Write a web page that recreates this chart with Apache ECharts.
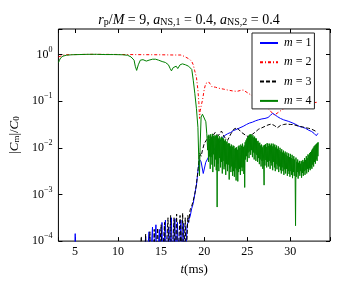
<!DOCTYPE html>
<html><head><meta charset="utf-8">
<script src="https://cdn.jsdelivr.net/npm/echarts@6/dist/echarts.min.js"></script>
<style>html,body{margin:0;padding:0;background:#fff}#c{width:349px;height:281px}</style>
</head><body><div id="c"></div>
<script>
// ---- tick labels / ranges ----
const xTickValues = [5, 10, 15, 20, 25, 30];
const yTickExponents = [-4, -3, -2, -1, 0];
const seriesNames = ['1', '2', '3', '4'];

// ---- data: [t (ms), log10(|C_m|/C_0)] ----
// m = 1
const m1Head = [[3.1,-5],[4.95,-5],[5.03,-3.84],[5.1,-5],[12.9,-5]];
const m1NoiseStart = 13.0, m1NoiseStep = 0.1;
const m1Noise = [-4.6,-4.6,-3.9,-4.6,-4.6,-4.6,-3.8,-4.6,-4.6,-4.6,
  -3.7,-4.6,-4.6,-4.6,-3.65,-4.6,-4.6,-4.6,-3.75,-4.6,
  -4.6,-3.6,-4.6,-4.6,-4.6,-3.55,-4.6,-4.6,-4.6,-3.7,
  -4.6,-4.6,-3.5,-4.6,-4.6,-4.6,-3.52,-4.6,-4.6,-3.6,
  -4.6,-4.6,-4.6,-3.55,-4.6,-4.6,-3.62,-4.6,-4.6,-4.2];
const m1Tail = [[18.0,-3.67],[18.2,-3.55],[18.37,-3.47],[18.55,-3.3],[18.73,-3.19],[18.9,-3.0],[19.1,-2.8],[19.3,-2.45],
  [19.46,-2.25],[19.64,-2.3],[19.89,-2.55],[20.18,-2.31],[20.5,-2.2],[20.9,-2.11],[21.3,-2.0],[21.63,-1.91],[22.0,-1.82],
  [22.35,-1.74],[22.7,-1.70],[23.07,-1.67],[23.4,-1.63],[23.8,-1.60],[24.15,-1.57],[24.52,-1.54],[24.9,-1.5],[25.24,-1.47],
  [25.6,-1.45],[25.97,-1.42],[26.3,-1.40],[26.69,-1.38],[27.05,-1.37],[27.41,-1.35],[27.7,-1.30],[27.95,-1.26],[28.2,-1.29],
  [28.49,-1.33],[28.85,-1.37],[29.22,-1.40],[29.75,-1.43],[30.3,-1.47],[30.65,-1.50],[31.03,-1.54],[31.4,-1.56],[31.75,-1.58],
  [32.1,-1.62],[32.47,-1.65],[32.75,-1.69],[33.01,-1.74],[33.1,-1.75],[33.2,-1.69]];

// m = 2
const m2Points = [[3.1,-0.05],[3.3,-0.02],[3.8,-0.005],[5,0.0],[7,0.005],[9,0.003],[11,0.0],[13,-0.003],[15,-0.005],
  [16.5,-0.01],[17.29,-0.01],[17.7,-0.04],[18.0,-0.07],[18.3,-0.1],[18.56,-0.15],[18.73,-0.22],[18.9,-0.35],[19.1,-0.49],
  [19.27,-0.76],[19.38,-1.03],[19.46,-1.37],[19.55,-1.2],[19.65,-1.1],[19.82,-0.96],[20.0,-0.75],[20.18,-0.62],[20.54,-0.59],
  [20.9,-0.69],[21.3,-0.70],[21.63,-0.72],[22.2,-0.74],[22.71,-0.76],[23.3,-0.78],[23.8,-0.79],[24.2,-0.77],[24.52,-0.76],
  [25.2,-0.84],[25.96,-0.93],[26.5,-1.02],[27.05,-1.10],[27.5,-1.17],[27.78,-1.23],[28.13,-1.30],[28.6,-1.24],[29.22,-1.16],
  [29.9,-1.13],[30.66,-1.10],[31.5,-1.07],[32.47,-1.04],[33.2,-1.02]];

// m = 3
const m3Head = [[3.1,-5],[12.4,-5]];
const m3NoiseStart = 12.5, m3NoiseStep = 0.1;
const m3Noise = [-4.6,-4.6,-3.9,-4.6,-4.6,
  -4.6,-4.6,-3.85,-4.6,-4.6,-4.6,-4.6,-3.8,-4.6,-4.6,
  -4.6,-4.6,-3.75,-4.6,-4.6,-4.6,-3.72,-4.6,-4.6,-4.6,
  -3.65,-4.6,-4.6,-4.6,-3.6,-4.6,-4.6,-4.6,-3.5,-4.6,
  -4.6,-3.45,-4.6,-4.6,-4.6,-3.5,-4.6,-4.6,-3.42,-4.6,
  -4.6,-4.6,-3.45,-4.6,-4.6,-3.4,-4.6,-4.6,-3.5,-4.6,
  -4.0,-3.45,-3.6];
const m3Tail = [[18.37,-3.33],[18.55,-3.25],[18.73,-3.13],[18.9,-3.0],[19.1,-2.78],[19.3,-2.45],[19.46,-2.11],[19.64,-2.18],
  [19.8,-2.05],[20.0,-1.91],[20.3,-1.82],[20.54,-1.77],[20.9,-1.77],[21.27,-1.67],[21.63,-1.74],[22.0,-1.64],[22.35,-1.77],
  [22.71,-1.84],[23.1,-1.70],[23.44,-1.60],[23.8,-1.57],[24.34,-1.67],[24.88,-1.74],[25.24,-1.77],[25.6,-1.71],[26.0,-1.65],
  [26.32,-1.60],[26.7,-1.57],[27.05,-1.54],[27.4,-1.51],[27.78,-1.49],[28.13,-1.52],[28.49,-1.57],[28.86,-1.52],[29.22,-1.50],
  [29.58,-1.49],[30.0,-1.50],[30.3,-1.50],[30.66,-1.52],[31.03,-1.54],[31.4,-1.55],[31.75,-1.57],[32.1,-1.58],[32.47,-1.60],
  [33.01,-1.65]];

// m = 4
const m4Head = [[3.1,-0.17],[3.2,-0.12],[3.35,-0.07],[3.6,-0.035],[4.0,-0.015],[4.6,-0.005],[5.5,0.0],[6.5,0.005],[7.5,0.005],
  [8.5,0.0],[9.5,0.0],[10.5,-0.005],[11.1,-0.015],[11.5,-0.05],[11.86,-0.12],[12.0,-0.25],[12.16,-0.34],[12.35,-0.22],
  [12.59,-0.12],[12.9,-0.11],[13.28,-0.14],[13.6,-0.12],[14.0,-0.1],[14.36,-0.1],[14.7,-0.12],[15.12,-0.15],[15.5,-0.17],
  [15.85,-0.22],[16.05,-0.3],[16.2,-0.35],[16.4,-0.28],[16.56,-0.27],[16.75,-0.25],[16.93,-0.30],[17.2,-0.22],[17.47,-0.20],
  [17.65,-0.19],[17.83,-0.22],[18.0,-0.22],[18.19,-0.25],[18.4,-0.28],[18.56,-0.32],[18.73,-0.55],[18.91,-0.83],[19.1,-1.16],
  [19.27,-1.56],[19.38,-2.3],[19.45,-2.6],[19.52,-2.0],[19.64,-1.34],[19.8,-1.28],[20.0,-1.30],[20.19,-1.44],[20.3,-1.7]];
const m4NoiseStart = 20.4, m4NoiseStep = 0.05;
const m4Noise = [
  -2.05,-1.74,-2.30,-1.72,-2.18,-1.80,-2.45,-1.71,-2.20,-1.78,-2.36,-1.70,-2.52,-1.74,-2.14,-1.76,-2.40,-1.73,-2.25,-1.75,
  -2.48,-1.72,-3.27,-1.74,-2.34,-1.80,-2.50,-1.75,-2.22,-1.82,-2.42,-1.78,-2.30,-1.76,-2.55,-1.79,-2.28,-1.80,-2.46,-1.85,
  -2.40,-1.82,-2.58,-1.88,-2.35,-1.86,-2.50,-1.92,-2.36,-1.90,-2.68,-1.91,-2.44,-1.97,-2.52,-1.93,-2.40,-1.98,-2.60,-1.95,
  -2.50,-1.96,-2.62,-2.02,-2.44,-2.00,-2.70,-1.99,-2.48,-2.04,-2.72,-1.97,-2.52,-1.95,-2.45,-2.00,-2.58,-1.93,-2.42,-1.96,
  -2.50,-1.91,-2.42,-1.98,-2.56,-1.95,-2.85,-1.88,-2.25,-1.84,-2.18,-1.80,-2.30,-1.77,-2.10,-1.74,-2.22,-1.72,-2.08,-1.71,
  -2.15,-1.71,-2.05,-1.76,-2.20,-1.73,-2.10,-1.78,-2.25,-1.76,-2.12,-1.80,-2.28,-1.80,-2.15,-1.86,-2.30,-1.85,-2.22,-1.90,
  -2.35,-1.89,-2.25,-1.95,-2.40,-1.93,-2.28,-1.99,-2.45,-1.95,-2.30,-2.80,-1.94,-2.38,-1.92,-2.26,-1.98,-2.42,-1.90,-2.30,
  -1.91,-2.40,-1.96,-2.28,-1.91,-2.45,-1.95,-2.32,-1.91,-2.38,-1.97,-2.48,-1.91,-2.30,-1.95,-2.42,-1.93,-2.50,-1.99,-2.35,
  -1.95,-2.46,-2.02,-2.38,-1.97,-2.52,-2.05,-2.40,-2.00,-2.48,-2.08,-2.55,-2.03,-2.42,-2.10,-2.50,-2.06,-2.58,-2.12,-2.46,
  -2.08,-2.55,-2.15,-2.45,-2.10,-2.60,-2.18,-2.50,-2.12,-2.56,-2.20,-2.62,-2.13,-2.50,-2.22,-2.58,-2.15,-2.65,-2.24,-2.52,
  -2.18,-2.60,-2.25,-2.55,-3.67,-2.21,-2.62,-2.30,-2.52,-2.25,-2.66,-2.32,-2.55,-2.28,-2.60,-2.34,-2.50,-2.28,-2.64,-2.30,
  -2.54,-2.26,-2.60,-2.30,-2.50,-2.22,-2.58,-2.26,-2.48,-2.18,-2.55,-2.22,-2.45,-2.14,-2.52,-2.16,-2.44,-2.11,-2.48,-2.09,
  -2.42,-2.06,-2.45,-2.03,-2.36,-2.00,-2.40,-1.97,-2.30,-1.95,-2.34,-1.93,-2.25,-1.91,-2.28,-1.89,-2.18,-1.88,-1.87];

// ---- assembly ----
function grid(start, step, vals) { return vals.map((v, i) => [+(start + i * step).toFixed(3), v]); }
function toVal(pairs) { return pairs.map(p => [p[0], Math.pow(10, p[1])]); }
const d1 = toVal([...m1Head, ...grid(m1NoiseStart, m1NoiseStep, m1Noise), ...m1Tail]);
const d2 = toVal(m2Points);
const d3 = toVal([...m3Head, ...grid(m3NoiseStart, m3NoiseStep, m3Noise), ...m3Tail]);
const d4 = toVal([...m4Head, ...grid(m4NoiseStart, m4NoiseStep, m4Noise)]);

const SERIF = 'Liberation Serif';
const sub = {fontFamily: SERIF, fontSize: 9, verticalAlign: 'bottom', lineHeight: 11, color: '#000'};
const it = {fontFamily: SERIF, fontStyle: 'italic', fontSize: 13, color: '#000', fontWeight: 'normal'};
const nm = {fontFamily: SERIF, fontSize: 13, color: '#000', fontWeight: 'normal'};
const tIt = Object.assign({}, it, {fontSize: 14});
const tNm = Object.assign({}, nm, {fontSize: 14});
const tSub = Object.assign({}, sub, {fontSize: 10, lineHeight: 12});
const lIt = Object.assign({}, it, {fontSize: 12});
const lNm = Object.assign({}, nm, {fontSize: 12});

const chart = echarts.init(document.getElementById('c'), null, {renderer: 'canvas'});
const tickStyle = {inside: true, length: 4, lineStyle: {color: '#000', width: 1}};
function mk(name, data, color, type) {
  return {type: 'line', name, data, symbol: 'none', showSymbol: false, animation: false,
    clip: true, lineStyle: {color, width: 1, type}, itemStyle: {color}};
}
chart.setOption({
  animation: false,
  backgroundColor: '#fff',
  title: {
    text: '{i|r}{s|p}{n|/}{i|M}{n| = 9, }{i|a}{s|NS,1}{n| = 0.4, }{i|a}{s|NS,2}{n| = 0.4}',
    left: 184, top: 8, textAlign: 'center',
    textStyle: {fontWeight: 'normal', color: '#000', rich: {i: tIt, n: tNm, s: tSub}}
  },
  legend: {
    orient: 'vertical', left: 252, top: 33,
    data: seriesNames,
    itemWidth: 18, itemHeight: 10, itemGap: 7.3,
    padding: [4, 3, 2, 7],
    borderColor: '#222', borderWidth: 1, backgroundColor: '#fff',
    itemStyle: {opacity: 0},
    formatter: n => '{i|m}{n| = ' + n + '}',
    textStyle: {color: '#000', padding: [0, 0, 0, 1], rich: {i: lIt, n: lNm}}
  },
  grid: {left: 39, right: 19, top: 29, bottom: 28, show: true, borderColor: '#000', borderWidth: 1, backgroundColor: 'transparent'},
  xAxis: [{
    type: 'value', min: 3.08, max: 34.6, position: 'bottom',
    axisLine: {show: false}, splitLine: {show: false}, axisTick: tickStyle,
    axisLabel: {color: '#000', fontFamily: SERIF, fontSize: 12, margin: 5,
      formatter: v => xTickValues.includes(Math.round(v * 1000) / 1000) ? String(v) : ''},
    name: '{i|t}{n|(ms)}', nameLocation: 'middle', nameGap: 11,
    nameTextStyle: {color: '#000', rich: {i: it, n: nm}}
  }, {
    type: 'value', min: 3.08, max: 34.6, position: 'top',
    axisLine: {show: false}, splitLine: {show: false}, axisTick: tickStyle, axisLabel: {show: false}
  }],
  yAxis: [{
    type: 'log', logBase: 10, min: 1e-4, max: 3.53, position: 'left',
    axisLine: {show: false}, splitLine: {show: false}, axisTick: tickStyle,
    axisLabel: {color: '#000', margin: 6,
      formatter: v => {
        const l = Math.log10(v), e = Math.round(l);
        if (Math.abs(l - e) > 1e-6 || !yTickExponents.includes(e)) return '';
        return '{b|10}{s|' + (e < 0 ? '\u2212' + (-e) : e) + '}';
      },
      rich: {b: {fontFamily: SERIF, fontSize: 12, color: '#000'}, s: {fontFamily: SERIF, fontSize: 8, verticalAlign: 'top', lineHeight: 18, color: '#000'}}
    },
    name: '{n||}{i|C}{s|m}{n||/}{i|C}{s|0}', nameLocation: 'middle', nameGap: 22,
    nameTextStyle: {color: '#000', rich: {i: it, n: nm, s: sub}}
  }, {
    type: 'log', logBase: 10, min: 1e-4, max: 3.53, position: 'right',
    axisLine: {show: false}, splitLine: {show: false}, axisTick: tickStyle, axisLabel: {show: false}
  }],
  series: [
    mk('1', d1, '#0000ff', 'solid'),
    mk('2', d2, '#ff0000', [3, 2, 1, 2]),
    mk('3', d3, '#000000', [4, 2]),
    mk('4', d4, '#008000', 'solid')
  ]
});
</script></body></html>
